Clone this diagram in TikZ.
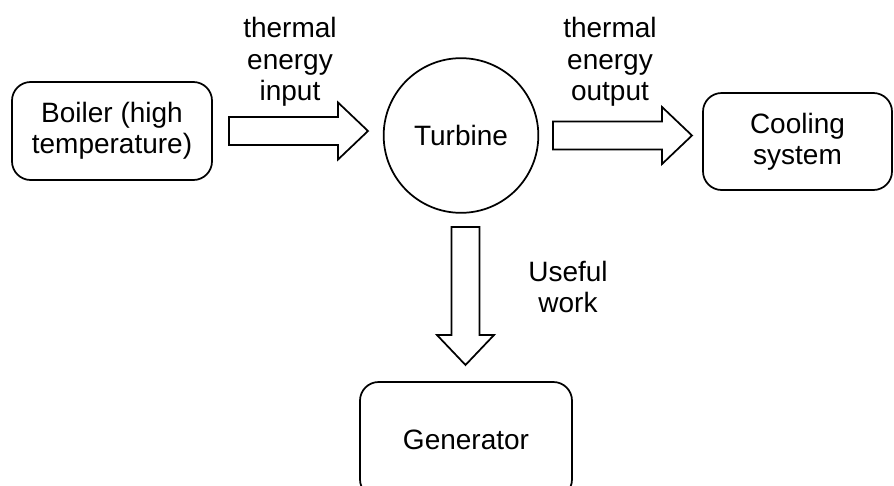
\documentclass[tikz,border=0pt]{standalone}
\usepackage{fontspec}
\setmainfont{Liberation Sans}
\usetikzlibrary{calc,positioning}
\tikzset{
  box/.style={draw,line width=1.3pt,rounded corners=14pt,align=center,inner sep=0pt},
  wheel/.style={draw,line width=1.3pt,circle,inner sep=0pt,minimum size=116pt},
  fat/.style={draw,line width=1.3pt,line join=miter,fill=white},
  lbl/.style={align=center,inner sep=0pt}
}
% block arrow from tail #1 to tip #2
\newcommand{\fatarrow}[2]{%
  \coordinate (h) at ($(#2)!22.5pt!(#1)$);
  \draw[fat] ($(#1)!10.5pt!90:(#2)$) -- ($(h)!10.5pt!90:(#2)$) -- ($(h)!21.4pt!90:(#2)$)
    -- (#2) -- ($(h)!21.4pt!-90:(#2)$) -- ($(h)!10.5pt!-90:(#2)$) -- ($(#1)!10.5pt!-90:(#2)$) -- cycle;}
\begin{document}
\begin{tikzpicture}[x=0.75pt,y=-0.75pt,font=\fontsize{21}{23.5}\selectfont]
  \useasboundingbox (0,0) rectangle (894,486);
  \node[box,minimum width=150pt,minimum height=73.5pt] (boiler) at (112,131) {Boiler (high\\temperature)};
  \node[wheel] (turbine) at (461,135.5) {Turbine};
  \node[box,minimum width=141.75pt,minimum height=72.75pt] (cooling) at (797.5,141.5) {Cooling\\system};
  \node[box,minimum width=159pt,minimum height=87pt] (gen) at (466,440) {Generator};
  \coordinate (inTail) at (229,131);  \coordinate (inTip) at (368,131);
  \coordinate (outTail) at (553,135.5); \coordinate (outTip) at (692,135.5);
  \coordinate (wTail) at (465.5,227); \coordinate (wTip) at (465.5,365);
  \fatarrow{inTail}{inTip}
  \fatarrow{outTail}{outTip}
  \fatarrow{wTail}{wTip}
  \node[lbl] (inLbl) at (290,62) {thermal\\energy\\input};
  \node[lbl] (outLbl) at (610,62) {thermal\\energy\\output};
  \node[lbl] (wLbl) at (568,287) {Useful\\work};
\end{tikzpicture}
\end{document}
